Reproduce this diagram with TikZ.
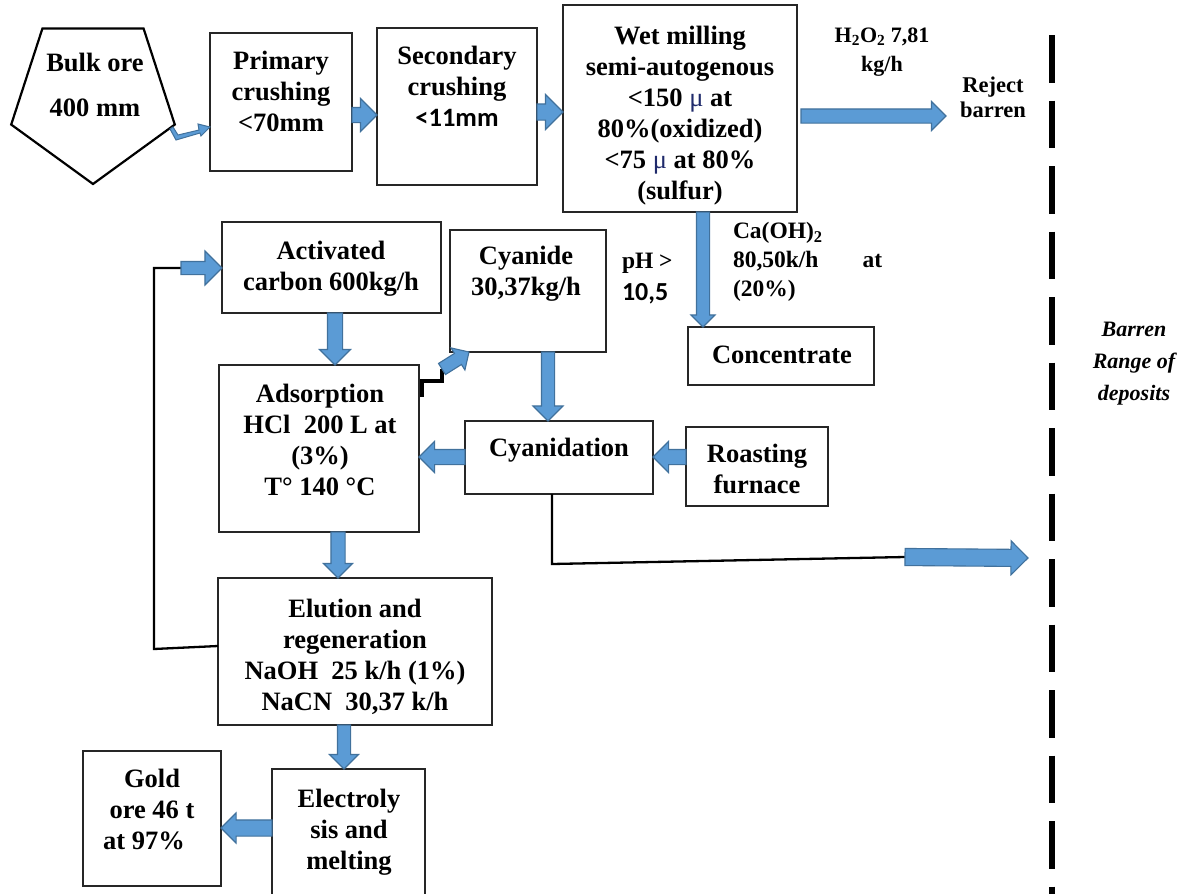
\documentclass[tikz,border=0pt]{standalone}
\usepackage{fontspec}
\setmainfont{Liberation Serif}
\newfontfamily\carl{Carlito}
\usetikzlibrary{shapes.geometric,shapes.arrows,calc}
\definecolor{arrfill}{HTML}{5B9BD5}
\definecolor{arredge}{HTML}{41719C}
\definecolor{mucol}{HTML}{1F2A6B}
\tikzset{
  box/.style={draw=black!85, line width=1.4pt, inner sep=0pt, outer sep=0pt, anchor=north west},
  txt/.style={font=\fontsize{26.5}{31}\selectfont\bfseries, align=center, inner sep=0pt, outer sep=0pt, anchor=north},
  small/.style={font=\fontsize{23.5}{29}\selectfont\bfseries, align=left, inner sep=0pt, outer sep=0pt, anchor=north west},
  note/.style={font=\fontsize{22}{32}\selectfont\bfseries\itshape, align=center, inner sep=0pt, outer sep=0pt, anchor=north},
  fatarr/.style={single arrow, draw=arredge, fill=arrfill, line width=1.1pt, inner xsep=0pt, outer sep=0pt, anchor=tail, minimum width=0pt},
  link/.style={draw=black, line width=2.3pt, line join=miter}
}
% #1 name, #2 tail, #3 tip, #4 shaft width, #5 head width
\newcommand{\fatarrow}[5]{%
  \path let \p1=(#2), \p2=(#3), \n1={atan2(\y2-\y1,\x2-\x1)}, \n2={veclen(\x2-\x1,\y2-\y1)} in
    node[fatarr, minimum height=\n2, inner ysep={(#4)/2}, single arrow head extend={(#5-#4)/2}, rotate=\n1] (#1) at (\p1) {};}
\begin{document}
\begin{tikzpicture}[x=1pt,y=-1pt]
\useasboundingbox (0,0) rectangle (1186,894);

% ---------- boxes ----------
\node[regular polygon, regular polygon sides=5, shape border rotate=180, minimum size=172pt,
      draw=black, line width=2.2pt, inner sep=0pt] (bulk) at (93,98) {};
\node[box, minimum width=142pt, minimum height=138pt] (prim) at (210,33) {};
\node[box, minimum width=160pt, minimum height=157pt] (sec) at (377,28) {};
\node[box, minimum width=234pt, minimum height=207pt] (wet) at (563,5) {};
\node[box, minimum width=219pt, minimum height=91pt] (act) at (222,222) {};
\node[box, minimum width=156pt, minimum height=122pt] (cyan) at (450,230) {};
\node[box, minimum width=186pt, minimum height=58pt] (conc) at (688,327) {};
\node[box, minimum width=200pt, minimum height=167pt] (ads) at (219,365) {};
\node[box, minimum width=188pt, minimum height=73pt] (cyd) at (465,421) {};
\node[box, minimum width=142pt, minimum height=79pt] (roast) at (686,427) {};
\node[box, minimum width=274pt, minimum height=147pt] (elu) at (218,578) {};
\node[box, minimum width=153pt, minimum height=150pt] (elec) at (272,769) {};
\node[box, minimum width=138pt, minimum height=135pt] (gold) at (83,751) {};

% ---------- texts ----------
\node[txt] (tbulk1) at (95,53) {Bulk ore};
\node[txt] (tbulk2) at (95,99) {400 mm};
\node[txt] (tprim) at (281,51) {Primary\\crushing\\<70mm};
\node[txt] (tsec) at (457,46) {Secondary\\crushing\\{\carl <11mm}};
\node[txt] (twet) at (680,26) {Wet milling\\semi-autogenous\\<150 {\mdseries\color{mucol}μ} at\\80\%(oxidized)\\<75 {\mdseries\color{mucol}μ} at 80\%\\(sulfur)};
\node[small, anchor=north, align=center, font=\fontsize{22}{29}\selectfont\bfseries] (th2o2) at (882,28) {H\textsubscript{2}O\textsubscript{2} 7,81\\kg/h};
\node[small, anchor=north, align=center, font=\fontsize{22.5}{25}\selectfont\bfseries] (trej) at (993,77) {Reject\\barren};
\node[note] (tbarren) at (1134,322) {Barren\\Range of\\deposits};
\node[small] (tcaoh) at (733,222) {Ca(OH)\textsubscript{2}\\80,50k/h\hspace{44pt}at\\(20\%)};
\node[small] (tph1) at (622,253) {pH >};
\node[small, font=\fontsize{26}{29}\selectfont\bfseries\carl] (tph2) at (622,283) {10,5};
\node[txt] (tact) at (331,241) {Activated\\carbon 600kg/h};
\node[txt] (tcyan) at (526,246) {Cyanide\\30,37kg/h};
\node[txt] (tads) at (320,384) {Adsorption\\HCl~ 200 L at\\(3\%)\\T° 140 °C};
\node[txt] (tcyd) at (559,438) {Cyanidation};
\node[txt] (troast) at (757,444) {Roasting\\furnace};
\node[txt] (tconc) at (782,346) {Concentrate};
\node[txt] (telu) at (355,599) {Elution and\\regeneration\\NaOH~ 25 k/h (1\%)\\NaCN~ 30,37 k/h};
\node[txt] (telec) at (349,789) {Electroly\\sis and\\melting};
\node[txt] (tgold) at (152,769) {Gold\\ore 46 t\\at 97\%\hspace*{16pt}};

% ---------- dashed border ----------
\coordinate (dtop) at (1052,35);
\coordinate (dbot) at (1052,900);
\draw[line width=5.5pt, dash pattern=on 47.5pt off 18pt] (dtop) -- (dbot);

% ---------- coordinates ----------
\coordinate (rej) at (946,116);
\coordinate (fbk) at (181,268);
\coordinate (dg) at (442,369);
\coordinate (bend2) at (905,557);
\coordinate (barr) at (1028,558);

% ---------- black links ----------
\draw[link] (cyd.south -| 552,0) -- (552,564) -- (bend2);
\draw[link] (elu.west |- 0,646) -- (154,649) -- (154,268) -- (fbk);
\draw[link, line width=3.6pt] ($(ads.east |- 0,397)+(3,0)$) -- (422,381) -- (442,381) -- (dg);

% ---------- small bent arrow from bulk ore ----------
\draw[draw=arredge, fill=arrfill, line width=1pt]
  (173,127) -- (178,135) -- (199,130) -- (198,124) -- (210,127) -- (201,136) -- (200,133)
  -- (176,140) -- (170,129) -- cycle;

% ---------- blue block arrows ----------
\fatarrow{f1}{prim.east |- 0,115}{sec.west |- 0,115}{14pt}{32pt}
\fatarrow{f2}{sec.east |- 0,112}{wet.west |- 0,112}{15pt}{34pt}
\fatarrow{f3}{$(wet.east |- 0,116)+(4,0)$}{rej}{13pt}{28pt}
\fatarrow{f4}{wet.south -| 703,0}{conc.north -| 703,0}{12pt}{23pt}
\fatarrow{f5}{act.south -| 335,0}{ads.north -| 335,0}{14pt}{30pt}
\fatarrow{f6}{fbk}{act.west |- 0,268}{12pt}{33pt}
\fatarrow{f7}{dg}{$(cyan.south west)+(19,0)$}{12pt}{25pt}
\fatarrow{f8}{cyan.south -| 548,0}{cyd.north -| 548,0}{12pt}{29pt}
\fatarrow{f9}{cyd.west |- 0,457}{ads.east |- 0,457}{14pt}{30pt}
\fatarrow{f10}{roast.west |- 0,457}{cyd.east |- 0,457}{14pt}{30pt}
\fatarrow{f11}{bend2}{barr}{16pt}{33pt}
\fatarrow{f12}{ads.south -| 338,0}{elu.north -| 338,0}{13pt}{28pt}
\fatarrow{f13}{elu.south -| 344,0}{elec.north -| 344,0}{12pt}{28pt}
\fatarrow{f14}{elec.west |- 0,828}{gold.east |- 0,828}{15pt}{29pt}
\end{tikzpicture}
\end{document}
